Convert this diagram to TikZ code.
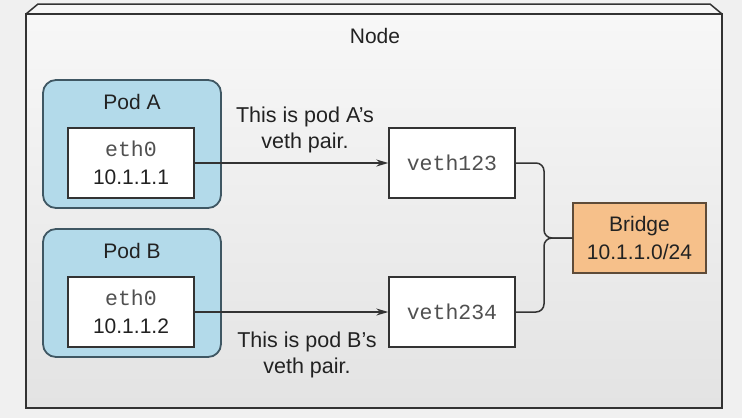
\documentclass[tikz,border=0pt]{standalone}
\usepackage{fontspec}
\setmainfont{Liberation Sans}
\setmonofont{Liberation Mono}
\usetikzlibrary{arrows.meta}
\definecolor{azulpod}{HTML}{B3DAEA}
\definecolor{bordepod}{HTML}{3F5763}
\definecolor{naranja}{HTML}{F6C08A}
\definecolor{bordenaranja}{HTML}{5E4B38}
\definecolor{grisoscuro}{HTML}{333333}
\definecolor{textogris}{HTML}{505050}
\definecolor{texto}{HTML}{222222}
\tikzstyle{cajapod} = [rectangle, rounded corners=13pt, minimum width=178pt, minimum height=128pt, draw=bordepod, line width=1.8pt, fill=azulpod]
\tikzstyle{cajaeth} = [rectangle, minimum width=126pt, minimum height=70pt, inner sep=0pt, align=center, draw=grisoscuro, line width=1.4pt, fill=white]
\tikzstyle{cajabridge} = [rectangle, minimum width=133pt, minimum height=70pt, inner sep=0pt, align=center, draw=bordenaranja, line width=1.4pt, fill=naranja]
\tikzstyle{etiqueta} = [align=center, text=texto, font=\fontsize{21.5}{25.5}\selectfont]
\tikzstyle{flecha} = [line width=1.5pt, draw=grisoscuro, -{Stealth[length=12pt,width=7pt]}]
\tikzstyle{linea} = [line width=1.5pt, draw=grisoscuro, rounded corners=8pt]
\newcommand{\mono}[1]{{\fontsize{21.5}{28}\selectfont\ttfamily\color{textogris}#1}}

\begin{document}
\begin{tikzpicture}[x=1pt, y=-1pt, font=\fontsize{21}{28}\selectfont, text=texto]
    % Fondo
    \fill[gray!12] (0,0) rectangle (742,418);
    \useasboundingbox (0,0) rectangle (742,418);
    \fill[gray!7] (26,14) -- (38,4) -- (710,4) -- (722,14) -- cycle;
    \draw[grisoscuro, line width=1.5pt] (26,14) -- (38,4) -- (710,4) -- (722,14);
    \shade[top color=gray!6, bottom color=gray!22] (26,14) rectangle (722,408);
    \draw[grisoscuro, line width=1.8pt] (26,14) rectangle (722,408);
    \node (nodo) at (375,36) {Node};
    % Pods
    \node (poda) [cajapod] at (132,144) {};
    \node (podb) [cajapod] at (132,293) {};
    \node (tpoda) at (132,102) {Pod A};
    \node (tpodb) at (132,251) {Pod B};
    % Cuadros
    \node (etha) [cajaeth] at (131,163) {\mono{eth0}\\10.1.1.1};
    \node (ethb) [cajaeth] at (131,312) {\mono{eth0}\\10.1.1.2};
    \node (veth1) [cajaeth] at (452,163) {\mono{veth123}};
    \node (veth2) [cajaeth] at (452,312) {\mono{veth234}};
    \node (bridge) [cajabridge] at (639.5,238) {Bridge\\10.1.1.0/24};
    \node (nota1) [etiqueta] at (305,130) {This is pod A's\\veth pair.};
    \node (nota2) [etiqueta] at (307,355) {This is pod B's\\veth pair.};
    % Flechas
    \coordinate (union) at (544,238);
    \draw[flecha] (etha) -- (veth1);
    \draw[flecha] (ethb) -- (veth2);
    \draw[linea] (veth1.east) -| (union) -- (bridge.west);
    \draw[linea] (veth2.east) -| (union) -- (bridge.west);

\end{tikzpicture}
\end{document}
